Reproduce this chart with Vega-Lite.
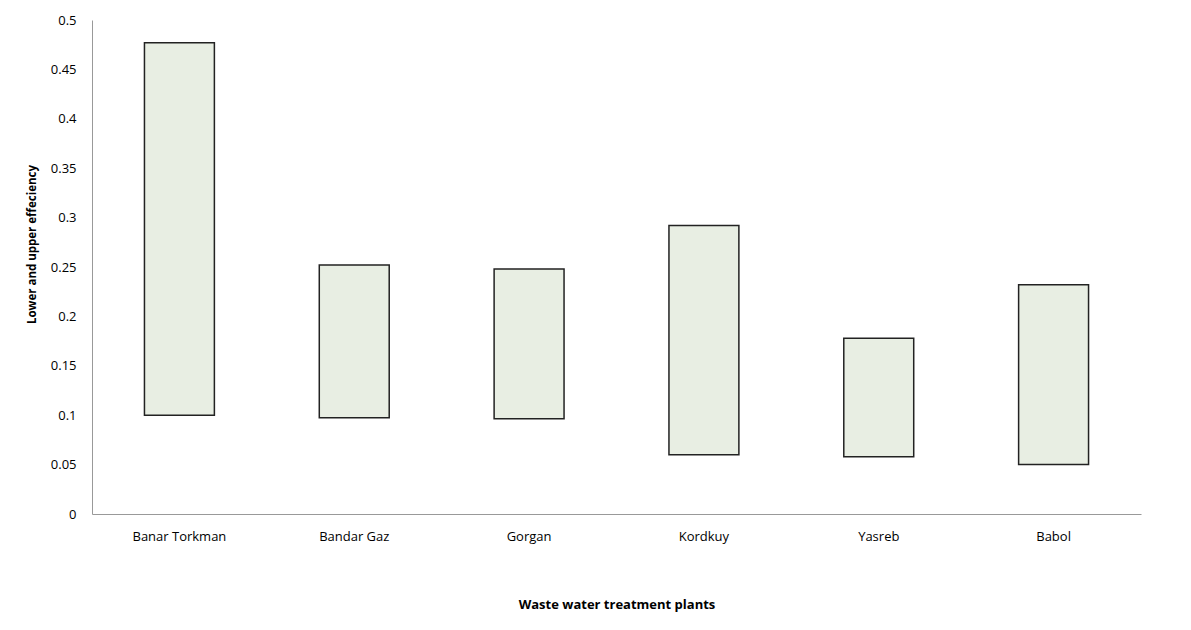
{
  "$schema": "https://vega.github.io/schema/vega-lite/v6.json",
  "width": 1049,
  "height": 494,
  "autosize": {"type": "none"},
  "padding": {"left": 92, "top": 20, "right": 50, "bottom": 116},
  "background": "white",
  "config": {
    "view": {"stroke": null},
    "font": "Open Sans"
  },
  "data": {
    "values": [
      {"plant": "Banar Torkman", "lower": 0.1, "upper": 0.477},
      {"plant": "Bandar Gaz", "lower": 0.0975, "upper": 0.252},
      {"plant": "Gorgan", "lower": 0.0965, "upper": 0.248},
      {"plant": "Kordkuy", "lower": 0.06, "upper": 0.292},
      {"plant": "Yasreb", "lower": 0.058, "upper": 0.178},
      {"plant": "Babol", "lower": 0.05, "upper": 0.232}
    ]
  },
  "mark": {"type": "bar", "fill": "#e8eee3", "stroke": "#222222", "strokeWidth": 1.5},
  "encoding": {
    "x": {
      "field": "plant",
      "type": "nominal",
      "sort": null,
      "scale": {"paddingInner": 0.6, "paddingOuter": 0.3},
      "axis": {
        "title": "Waste water treatment plants",
        "titleFont": "Open Sans",
        "titleFontSize": 13,
        "titleFontWeight": "bold",
        "titleColor": "#000000",
        "titleY": 84,
        "labelAngle": 0,
        "labelFontSize": 13,
        "labelColor": "#000000",
        "labelPadding": 16,
        "ticks": false,
        "domainColor": "#999999",
        "grid": false
      }
    },
    "y": {
      "field": "lower",
      "type": "quantitative",
      "scale": {"domain": [0, 0.5], "nice": false},
      "axis": {
        "title": "Lower and upper effeciency",
        "titleFont": "Open Sans",
        "titleFontSize": 11.5,
        "titleFontWeight": "bold",
        "titleColor": "#000000",
        "titleX": -55,
        "titleY": 224,
        "values": [0, 0.05, 0.1, 0.15, 0.2, 0.25, 0.3, 0.35, 0.4, 0.45, 0.5],
        "format": "~g",
        "labelFontSize": 13,
        "labelColor": "#000000",
        "labelPadding": 16,
        "ticks": false,
        "domainColor": "#999999",
        "grid": false
      }
    },
    "y2": {"field": "upper"}
  }
}
